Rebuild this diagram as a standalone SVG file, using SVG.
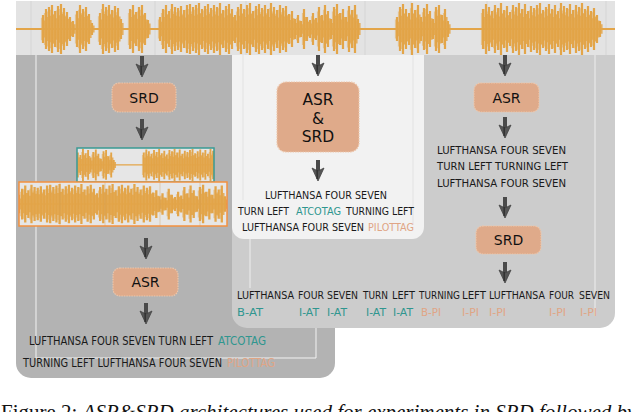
<svg xmlns="http://www.w3.org/2000/svg" xmlns:xlink="http://www.w3.org/1999/xlink" width="632" height="412" viewBox="0 0 632 412">
<style>
.box{fill:#dfaa8a;stroke:#edc6aa;stroke-width:1.2;stroke-dasharray:1.5 1}
.bl{font-family:"DejaVu Sans","Liberation Sans",sans-serif;font-size:14px;fill:#111;text-anchor:middle}
.tk{font-family:"DejaVu Sans","Liberation Sans",sans-serif;font-size:11px;fill:#1a1a1a}
.at{fill:#2f968f}
.pi{fill:#e0a585}
.wv{fill:none;stroke:#e3a549;stroke-width:2.2}
.cap{font-family:"Liberation Serif","Times New Roman",serif;font-size:21px;fill:#111}
</style>
<defs>
<g id="arr">
<path d="M-2 0H2V12H-2Z" fill="#4a4a4a"/>
<path d="M-6 8L0 21L6 8L0 11Z" fill="#555" stroke="#444" stroke-width="0.8"/>
<path d="M-0.8 10V19" stroke="#333" stroke-width="1.6"/>
</g>
<path id="wl" class="wv" d="M43 15v28M46 9v40M49 7v44M52 5v48M55 11v36M58 6v46M61 4v50M64 8v42M67 12v34M70 17v24M73 21v16M77 11v36M80 5v48M83 9v40M86 7v44M89 14v30M92 23v12M100 13v32M103 4v50M106 7v44M109 5v48M112 10v38M115 6v46M118 8v42M121 19v20M130 9v40M133 5v48M136 12v34M139 7v44M142 5v48M145 13v32M148 20v18M160 17v24M163 9v40M166 5v48M169 11v36M172 4v50M175 7v44M178 8v42M181 6v46M184 10v38M187 5v48M190 4v50M193 7v44M196 5v48M199 3v52M202 9v40M205 6v46M208 4v50M211 8v42M214 5v48M217 7v44M220 3v52M223 10v38M226 6v46M229 4v50M232 9v40M235 15v28M238 7v44M241 4v50M244 9v40M247 5v48M250 3v52M253 11v36M256 6v46M259 4v50M262 8v42M265 5v48M268 9v40M271 3v52M274 7v44M277 10v38M280 5v48M283 8v42M286 6v46M289 14v30M292 11v36M295 19v20M298 15v28M301 21v16M304 9v40M307 17v24M310 20v18M313 13v32M316 18v22M319 7v44M322 15v28M325 5v48M328 11v36M331 19v20M334 7v44M337 4v50M340 13v32M343 9v40M346 17v24M349 6v46M352 10v38M355 5v48M358 19v20M397 17v24M400 7v44M403 4v50M406 9v40M409 13v32M412 3v52M415 10v38M418 5v48M421 17v24M424 8v42M427 4v50M430 11v36M433 19v20M436 7v44M439 5v48M442 15v28M445 9v40M448 21v16M483 9v40M486 4v50M489 7v44M492 11v36M495 5v48M498 8v42M501 3v52M504 10v38M507 6v46M510 12v34M513 5v48M516 7v44M519 3v52M522 9v40M525 4v50M528 11v36M531 6v46M534 8v42M537 5v48M540 3v52M543 10v38M546 7v44M549 4v50M552 9v40M555 5v48M558 11v36M561 3v52M564 6v46M567 8v42M570 4v50M573 10v38M576 5v48M579 7v44M582 3v52M585 9v40M588 6v46M591 11v36M594 8v42M597 15v28M600 21v16"/>
<g id="wave">
<path d="M16 29H615" stroke="#e3a549" stroke-width="2"/>
<use xlink:href="#wl"/>
<use xlink:href="#wl" transform="translate(1.5 11.6) scale(1 0.6)" opacity="0.85"/>
<use xlink:href="#wl" transform="translate(-1 5.8) scale(1 0.8)" opacity="0.5"/>
</g>
<clipPath id="c1"><rect x="77" y="148" width="137" height="34"/></clipPath>
<clipPath id="c2"><rect x="19" y="182" width="208" height="44"/></clipPath>
</defs>

<g id="audio">
<rect x="16" y="1" width="599" height="55" fill="#e3e3e3"/>
<path d="M31 1V56M155 1V56M246 1V56M365 1V56M411 1V56M487 1V56M606 1V56" stroke="#d5d5d5" stroke-width="1"/>
<use xlink:href="#wave"/>
</g>

<g id="panel-left">
<path d="M16 55H335V363A15 15 0 0 1 320 378H31A15 15 0 0 1 16 363Z" fill="#b3b3b3"/>
<path d="M36 55V358H316V328" fill="none" stroke="#f2f2f2" stroke-width="1"/>
</g>
<g id="panel-right">
<path d="M232 55H615V313A15 15 0 0 1 600 328H247A15 15 0 0 1 232 313Z" fill="#cccccc"/>
<path d="M595 55V316M250 239V288" stroke="#eeeeee" stroke-width="1"/>
</g>
<g id="panel-middle">
<path d="M232 55H424V227A12 12 0 0 1 412 239H244A12 12 0 0 1 232 227Z" fill="#f2f2f2"/>
<path d="M243 55V200M413 55V225" stroke="#e2e2e2" stroke-width="1"/>
</g>

<g id="srd-left">
<rect class="box" x="112" y="83" width="64" height="29" rx="7"/>
<text class="bl" x="144" y="103">SRD</text>
</g>
<g id="segments-atco">
<rect x="77" y="148" width="137" height="34" fill="#e6e6e6"/>
<g clip-path="url(#c1)"><use xlink:href="#wave" transform="translate(-269.7 147) scale(0.856 0.62)"/></g>
<rect x="77" y="148" width="137" height="34" fill="none" stroke="#3a9b94" stroke-width="1.5"/>
</g>
<g id="segments-pilot">
<rect x="19" y="182" width="208" height="44" fill="#e6e6e6"/>
<g clip-path="url(#c2)"><use xlink:href="#wave" transform="translate(-147.4 181.7) scale(1.04 0.77)"/></g>
<path d="M60 182V226M105 182V226M160 182V226M200 182V226" stroke="#d09a55" stroke-width="0.6" opacity="0.6"/>
<rect x="19" y="182" width="208" height="44" fill="none" stroke="#f3913f" stroke-width="1.5"/>
</g>
<g id="asr-left">
<rect class="box" x="113" y="268" width="65" height="28" rx="7"/>
<text class="bl" x="145.5" y="287">ASR</text>
</g>
<g id="out-left" class="tk" style="font-size:12px">
<text x="29" y="345" textLength="184" lengthAdjust="spacingAndGlyphs">LUFTHANSA FOUR SEVEN TURN LEFT</text>
<text class="at" x="218" y="345" textLength="48" lengthAdjust="spacingAndGlyphs">ATCOTAG</text>
<text x="23" y="367" textLength="199" lengthAdjust="spacingAndGlyphs">TURNING LEFT LUFTHANSA FOUR SEVEN</text>
<text class="pi" x="227" y="367" textLength="48" lengthAdjust="spacingAndGlyphs">PILOTTAG</text>
</g>

<g id="asr-srd-middle">
<rect class="box" x="277" y="82" width="82" height="70" rx="9"/>
<text class="bl" style="font-size:15.5px" x="318" y="105">ASR</text>
<text class="bl" style="font-size:15.5px" x="318" y="123.5">&amp;</text>
<text class="bl" style="font-size:15.5px" x="318" y="142">SRD</text>
</g>
<g id="out-middle" class="tk">
<text x="265" y="199" textLength="122" lengthAdjust="spacingAndGlyphs">LUFTHANSA FOUR SEVEN</text>
<text x="238" y="215" textLength="51" lengthAdjust="spacingAndGlyphs">TURN LEFT</text>
<text class="at" x="296" y="215" textLength="45" lengthAdjust="spacingAndGlyphs">ATCOTAG</text>
<text x="346" y="215" textLength="68" lengthAdjust="spacingAndGlyphs">TURNING LEFT</text>
<text x="242" y="231" textLength="122" lengthAdjust="spacingAndGlyphs">LUFTHANSA FOUR SEVEN</text>
<text class="pi" x="368" y="231" textLength="46" lengthAdjust="spacingAndGlyphs">PILOTTAG</text>
</g>

<g id="asr-right">
<rect class="box" x="474" y="83" width="65" height="29" rx="7"/>
<text class="bl" x="506.5" y="102.5">ASR</text>
</g>
<g id="out-right-asr" class="tk">
<text x="437" y="154" textLength="129" lengthAdjust="spacingAndGlyphs">LUFTHANSA FOUR SEVEN</text>
<text x="437" y="170" textLength="131" lengthAdjust="spacingAndGlyphs">TURN LEFT TURNING LEFT</text>
<text x="437" y="187" textLength="129" lengthAdjust="spacingAndGlyphs">LUFTHANSA FOUR SEVEN</text>
</g>
<g id="srd-right">
<rect class="box" x="476" y="226" width="65" height="28" rx="7"/>
<text class="bl" x="508.5" y="245">SRD</text>
</g>
<g id="out-right-tags" class="tk">
<text x="237" y="299" textLength="57" lengthAdjust="spacingAndGlyphs">LUFTHANSA</text>
<text x="298" y="299" textLength="26" lengthAdjust="spacingAndGlyphs">FOUR</text>
<text x="327" y="299" textLength="31" lengthAdjust="spacingAndGlyphs">SEVEN</text>
<text x="363" y="299" textLength="25" lengthAdjust="spacingAndGlyphs">TURN</text>
<text x="392" y="299" textLength="23" lengthAdjust="spacingAndGlyphs">LEFT</text>
<text x="419" y="299" textLength="41" lengthAdjust="spacingAndGlyphs">TURNING</text>
<text x="462" y="299" textLength="24" lengthAdjust="spacingAndGlyphs">LEFT</text>
<text x="489" y="299" textLength="56" lengthAdjust="spacingAndGlyphs">LUFTHANSA</text>
<text x="549" y="299" textLength="25" lengthAdjust="spacingAndGlyphs">FOUR</text>
<text x="579" y="299" textLength="31" lengthAdjust="spacingAndGlyphs">SEVEN</text>
<text class="at" x="237" y="316" textLength="26" lengthAdjust="spacingAndGlyphs">B-AT</text>
<text class="at" x="299" y="316" textLength="20" lengthAdjust="spacingAndGlyphs">I-AT</text>
<text class="at" x="327" y="316" textLength="20" lengthAdjust="spacingAndGlyphs">I-AT</text>
<text class="at" x="366" y="316" textLength="20" lengthAdjust="spacingAndGlyphs">I-AT</text>
<text class="at" x="393" y="316" textLength="20" lengthAdjust="spacingAndGlyphs">I-AT</text>
<text class="pi" x="421" y="316" textLength="20" lengthAdjust="spacingAndGlyphs">B-PI</text>
<text class="pi" x="462" y="316" textLength="17" lengthAdjust="spacingAndGlyphs">I-PI</text>
<text class="pi" x="489" y="316" textLength="17" lengthAdjust="spacingAndGlyphs">I-PI</text>
<text class="pi" x="549" y="316" textLength="17" lengthAdjust="spacingAndGlyphs">I-PI</text>
<text class="pi" x="580" y="316" textLength="17" lengthAdjust="spacingAndGlyphs">I-PI</text>
</g>

<g id="connectors">
<use xlink:href="#arr" x="142" y="56"/>
<use xlink:href="#arr" x="142" y="119"/>
<use xlink:href="#arr" x="146" y="238"/>
<use xlink:href="#arr" x="146" y="303"/>
<use xlink:href="#arr" x="318" y="55"/>
<use xlink:href="#arr" x="318" y="160"/>
<use xlink:href="#arr" x="505" y="55"/>
<use xlink:href="#arr" x="505" y="117"/>
<use xlink:href="#arr" x="505" y="197"/>
<use xlink:href="#arr" x="505" y="262"/>
</g>

<g id="caption">
<text class="cap" x="1" y="419">Figure 2: <tspan font-style="italic">ASR&amp;SRD architectures used for experiments in SRD followed by</tspan></text>
</g>
</svg>
